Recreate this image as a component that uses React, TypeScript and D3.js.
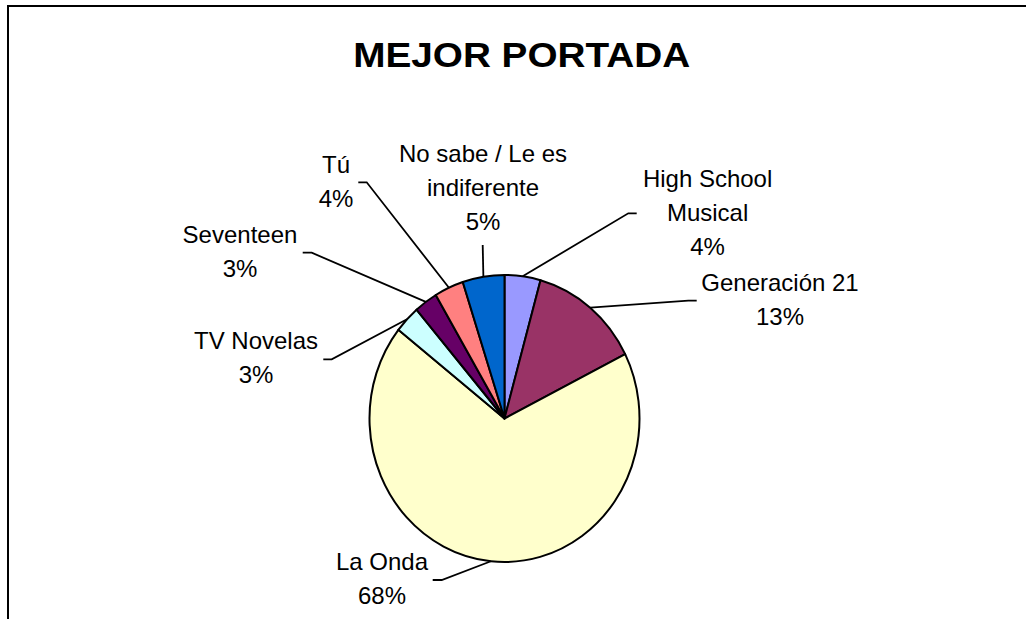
import React from "react";
import * as d3 from "d3";

const categories = [
  "High School Musical",
  "Generación 21",
  "La Onda",
  "TV Novelas",
  "Seventeen",
  "Tú",
  "No sabe / Le es indiferente",
];
const values = [4.3, 13.3, 68.0, 3.1, 2.8, 3.5, 5.0];
const colors = ["#9999FF", "#993366", "#FFFFCC", "#CCFFFF", "#660066", "#FF8080", "#0066CC"];
const labelLines = [
  ["High School", "Musical"],
  ["Generación 21"],
  ["La Onda"],
  ["TV Novelas"],
  ["Seventeen"],
  ["Tú"],
  ["No sabe / Le es", "indiferente"],
];
const title = "MEJOR PORTADA";

// layout (not data)
const W = 1026;
const H = 619;
const cx = 504.5;
const cy = 418.5;
const rx = 135;
const ry = 143.5;
const lineH = 34;
// label anchor: x centre, first baseline, leader start (tick) and tick direction
const labelLayout = [
  { x: 707.6, y: 186.7, tx: 628.3, ty: 213.3, tick: 8.4 },
  { x: 780, y: 290.7, tx: 688.3, ty: 300.7, tick: 8.4 },
  { x: 382, y: 570, tx: 441.7, ty: 580, tick: -9 },
  { x: 256, y: 349.3, tx: 331.7, ty: 359.3, tick: -8.4 },
  { x: 240, y: 243.3, tx: 311.7, ty: 252.7, tick: -9 },
  { x: 336, y: 173.3, tx: 366.7, ty: 182.3, tick: -8.4 },
  { x: 483, y: 162.3, tx: 482.7, ty: 245, tick: 0 },
];

export default function App() {
  const pie = d3.pie<number>().sort(null).value((d) => d)(values);
  const arc = d3.arc<d3.PieArcDatum<number>>().innerRadius(0).outerRadius(rx);
  const font = "'Liberation Sans', Arial, sans-serif";

  return (
    <svg
      width={W}
      height={H}
      style={{ position: "absolute", left: 0, top: 0, background: "#fff" }}
    >
      <rect x={0} y={0} width={W} height={H} fill="#fff" />
      <rect x={8} y={6} width={1200} height={800} fill="none" stroke="#000" strokeWidth={2} />
      <text
        x={521.7}
        y={67.3}
        textAnchor="middle"
        fontFamily={font}
        fontWeight="bold"
        fontSize={35}
        textLength={337}
        lengthAdjust="spacingAndGlyphs"
      >
        {title}
      </text>
      <g transform={`translate(${cx},${cy}) scale(1,${ry / rx})`}>
        {pie.map((p, i) => (
          <path
            key={categories[i]}
            d={arc(p) || ""}
            fill={colors[i]}
            stroke="#000"
            strokeWidth={2}
            vectorEffect="non-scaling-stroke"
            strokeLinejoin="round"
          />
        ))}
      </g>
      {pie.map((p, i) => {
        const L = labelLayout[i];
        const mid = (p.startAngle + p.endAngle) / 2;
        const ex = cx + rx * Math.sin(mid);
        const ey = cy - ry * Math.cos(mid);
        const pts = `${L.tx + L.tick},${L.ty} ${L.tx},${L.ty} ${ex},${ey}`;
        const lines = [...labelLines[i], `${Math.round(values[i])}%`];
        return (
          <g key={"l" + i}>
            <polyline points={pts} fill="none" stroke="#000" strokeWidth={1.8} />
            <text textAnchor="middle" fontFamily={font} fontSize={24} fill="#000">
              {lines.map((t, j) => (
                <tspan key={j} x={L.x} y={L.y + j * lineH}>
                  {t}
                </tspan>
              ))}
            </text>
          </g>
        );
      })}
    </svg>
  );
}
